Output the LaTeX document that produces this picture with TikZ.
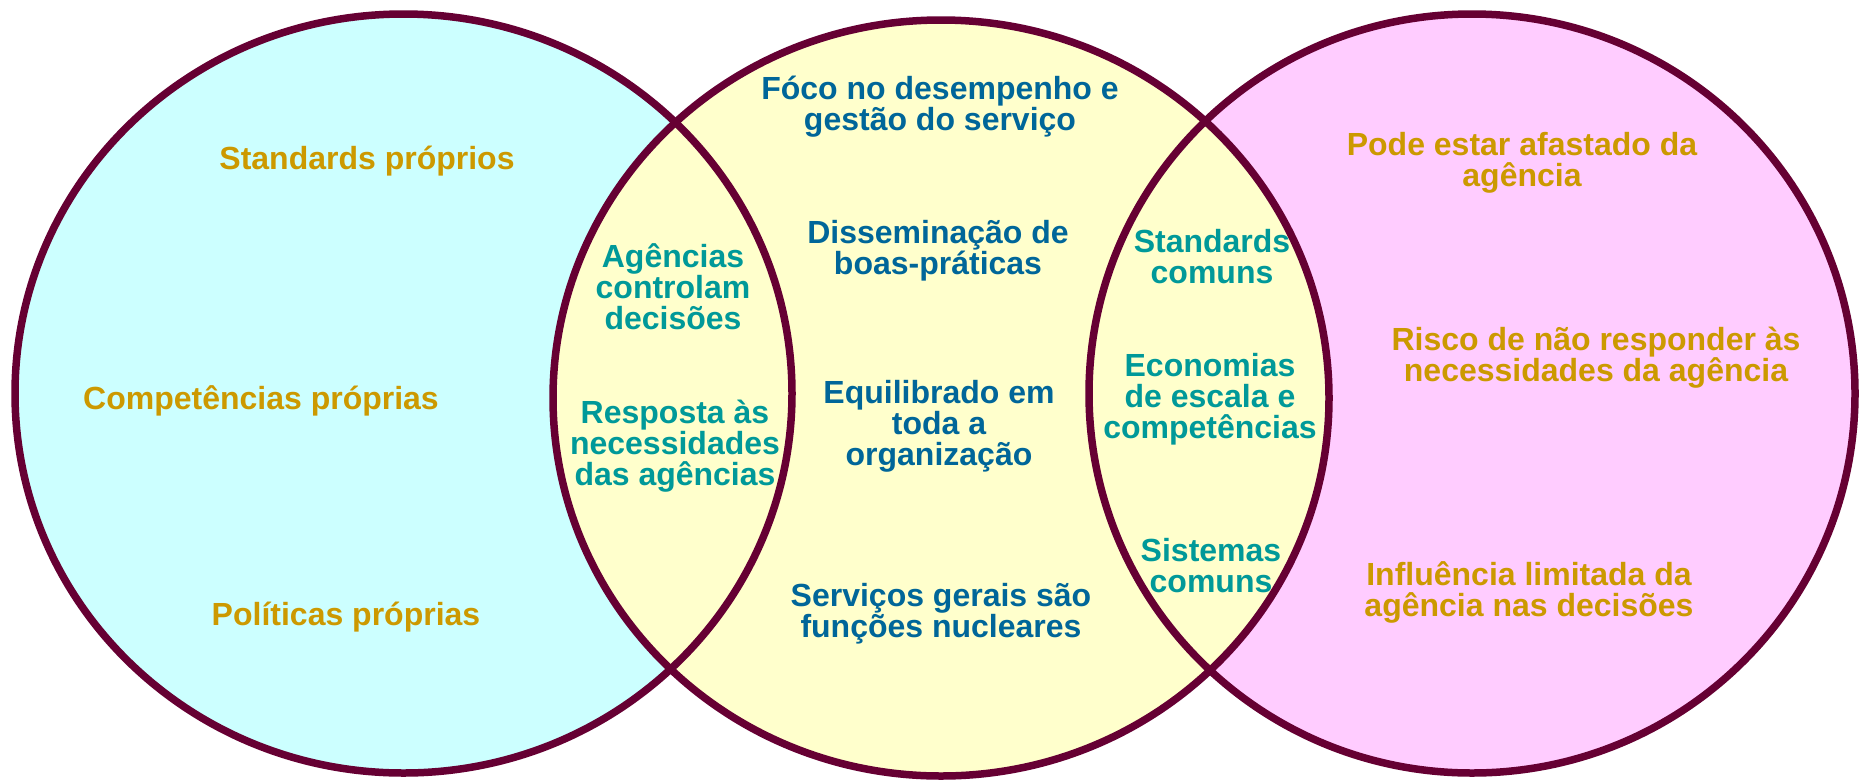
\documentclass[tikz,border=0pt]{standalone}
\usepackage{fontspec}
\setmainfont{Liberation Sans}
\definecolor{rim}{HTML}{660033}
\definecolor{fillL}{HTML}{CCFFFF}
\definecolor{fillM}{HTML}{FFFFCC}
\definecolor{fillR}{HTML}{FFCCFF}
\definecolor{goldtxt}{HTML}{CC9900}
\definecolor{tealtxt}{HTML}{009999}
\definecolor{bluetxt}{HTML}{006699}
\newcommand\blk[1]{\vtop{\baselineskip=31pt\lineskiplimit=-100pt\lineskip=0pt\halign{\hfil##\hfil\cr#1\crcr}}}
\tikzset{
  txt/.style={font=\fontsize{32}{31}\selectfont\bfseries, anchor=base, inner sep=0pt},
  outer/.style={txt, text=goldtxt},
  lens/.style={txt, text=tealtxt},
  mid/.style={txt, text=bluetxt},
  rimline/.style={draw=rim, line width=7.5pt}
}
\begin{document}
\begin{tikzpicture}[x=1pt, y=-1pt]
\useasboundingbox (0,0) rectangle (1860,780);
% fills
\fill[fillL] (403.5,393.5) ellipse [x radius=388.5, y radius=379.5];
\fill[fillR] (1472,393.5) ellipse [x radius=383, y radius=379.5];
\fill[fillM] (941,398) ellipse [x radius=388, y radius=378];
% outlines
\draw[rimline] (403.5,393.5) ellipse [x radius=388.5, y radius=379.5];
\draw[rimline] (1472,393.5) ellipse [x radius=383, y radius=379.5];
\draw[rimline] (941,398) ellipse [x radius=388, y radius=378];
% left set
\node[outer] (sp) at (367,169) {Standards próprios};
\node[outer] (cp) at (261,409) {Competências próprias};
\node[outer] (pp) at (346,625) {Políticas próprias};
% left lens
\node[lens] (acd) at (673,267) {\blk{Agências\cr controlam\cr decisões}};
\node[lens] (ran) at (675,423) {\blk{Resposta às\cr necessidades\cr das agências}};
% middle set
\node[mid] (foco) at (940,99) {\blk{Fóco no desempenho e\cr gestão do serviço}};
\node[mid] (diss) at (938,243) {\blk{Disseminação de\cr boas-práticas}};
\node[mid] (equi) at (939,403) {\blk{Equilibrado em\cr toda a\cr organização}};
\node[mid] (serv) at (941,606) {\blk{Serviços gerais são\cr funções nucleares}};
% right lens
\node[lens] (sc) at (1212,252) {\blk{Standards\cr comuns}};
\node[lens] (eco) at (1210,376) {\blk{Economias\cr de escala e\cr competências}};
\node[lens] (sis) at (1211,561) {\blk{Sistemas\cr comuns}};
% right set
\node[outer] (pode) at (1522,155) {\blk{Pode estar afastado da\cr agência}};
\node[outer] (risco) at (1596,350) {\blk{Risco de não responder às\cr necessidades da agência}};
\node[outer] (infl) at (1529,585) {\blk{Influência limitada da\cr agência nas decisões}};
\end{tikzpicture}
\end{document}
